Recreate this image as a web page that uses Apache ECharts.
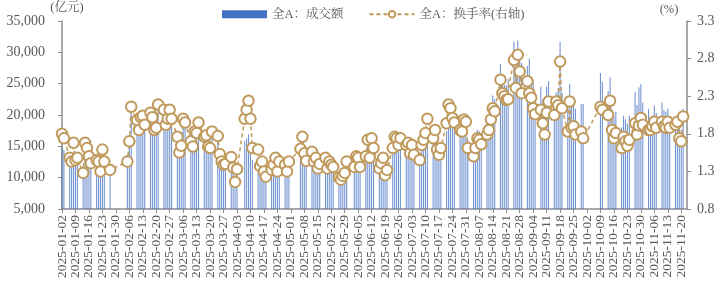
<!DOCTYPE html>
<html><head><meta charset="utf-8">
<script src="https://cdn.jsdelivr.net/npm/echarts@6/dist/echarts.min.js"></script>
<style>html,body{margin:0;padding:0;background:#fff}#c{width:718px;height:284px}</style>
</head><body><div id="c"></div>
<script>
// Trading days (YYYY-MM-DD)
const tradeDates = [
'2025-01-02','2025-01-03','2025-01-06','2025-01-07','2025-01-08','2025-01-09','2025-01-10','2025-01-13','2025-01-14','2025-01-15','2025-01-16','2025-01-17','2025-01-20','2025-01-21','2025-01-22','2025-01-23','2025-01-24','2025-01-27',
'2025-02-05','2025-02-06','2025-02-07','2025-02-10','2025-02-11','2025-02-12','2025-02-13','2025-02-14','2025-02-17','2025-02-18','2025-02-19','2025-02-20','2025-02-21','2025-02-24','2025-02-25','2025-02-26','2025-02-27','2025-02-28',
'2025-03-03','2025-03-04','2025-03-05','2025-03-06','2025-03-07','2025-03-10','2025-03-11','2025-03-12','2025-03-13','2025-03-14','2025-03-17','2025-03-18','2025-03-19','2025-03-20','2025-03-21','2025-03-24','2025-03-25','2025-03-26','2025-03-27','2025-03-28','2025-03-31',
'2025-04-01','2025-04-02','2025-04-03','2025-04-07','2025-04-08','2025-04-09','2025-04-10','2025-04-11','2025-04-14','2025-04-15','2025-04-16','2025-04-17','2025-04-18','2025-04-21','2025-04-22','2025-04-23','2025-04-24','2025-04-25','2025-04-28','2025-04-29','2025-04-30',
'2025-05-06','2025-05-07','2025-05-08','2025-05-09','2025-05-12','2025-05-13','2025-05-14','2025-05-15','2025-05-16','2025-05-19','2025-05-20','2025-05-21','2025-05-22','2025-05-23','2025-05-26','2025-05-27','2025-05-28','2025-05-29','2025-05-30',
'2025-06-03','2025-06-04','2025-06-05','2025-06-06','2025-06-09','2025-06-10','2025-06-11','2025-06-12','2025-06-13','2025-06-16','2025-06-17','2025-06-18','2025-06-19','2025-06-20','2025-06-23','2025-06-24','2025-06-25','2025-06-26','2025-06-27','2025-06-30',
'2025-07-01','2025-07-02','2025-07-03','2025-07-04','2025-07-07','2025-07-08','2025-07-09','2025-07-10','2025-07-11','2025-07-14','2025-07-15','2025-07-16','2025-07-17','2025-07-18','2025-07-21','2025-07-22','2025-07-23','2025-07-24','2025-07-25','2025-07-28','2025-07-29','2025-07-30','2025-07-31',
'2025-08-01','2025-08-04','2025-08-05','2025-08-06','2025-08-07','2025-08-08','2025-08-11','2025-08-12','2025-08-13','2025-08-14','2025-08-15','2025-08-18','2025-08-19','2025-08-20','2025-08-21','2025-08-22','2025-08-25','2025-08-26','2025-08-27','2025-08-28','2025-08-29',
'2025-09-01','2025-09-02','2025-09-03','2025-09-04','2025-09-05','2025-09-08','2025-09-09','2025-09-10','2025-09-11','2025-09-12','2025-09-15','2025-09-16','2025-09-17','2025-09-18','2025-09-19','2025-09-22','2025-09-23','2025-09-24','2025-09-25','2025-09-26','2025-09-29','2025-09-30',
'2025-10-09','2025-10-10','2025-10-13','2025-10-14','2025-10-15','2025-10-16','2025-10-17','2025-10-20','2025-10-21','2025-10-22','2025-10-23','2025-10-24','2025-10-27','2025-10-28','2025-10-29','2025-10-30','2025-10-31',
'2025-11-03','2025-11-04','2025-11-05','2025-11-06','2025-11-07','2025-11-10','2025-11-11','2025-11-12','2025-11-13','2025-11-14','2025-11-17','2025-11-18','2025-11-19','2025-11-20','2025-11-21'
];
// 全A：成交额 (亿元)
const amount = [
14900,14400,12300,11900,13900,12000,12300,10600,13900,13300,12500,11700,12000,11900,10800,13200,11900,11000,
13600,16200,20500,18800,17600,19200,19400,18200,19800,19200,17600,17900,20800,20100,18200,19000,20100,19000,
16400,14400,15300,18600,18100,15800,15200,17000,16800,18100,16400,16500,15200,15000,17000,16500,14200,13300,12900,13000,13900,
11300,9800,11200,15800,16300,16900,15700,12800,12700,11000,11500,10500,9900,10700,11200,12000,10500,11600,11300,10500,11600,
14000,15400,13500,12600,13700,12600,13000,11800,12300,13000,11800,12600,12200,11900,10200,9900,10300,10700,11800,
11900,13200,13000,11900,13200,15100,13000,15300,14100,11800,12400,13000,11000,11600,14100,15500,15300,14500,15300,14500,
15100,13900,14900,13700,13000,14900,15500,16300,18000,15700,16700,14300,13700,14500,17500,19700,19300,18100,17600,16700,16500,17900,17700,
16100,15200,16400,17600,17400,16800,18500,19300,21600,23100,22500,28100,26400,24800,24700,25800,31700,27200,31900,29800,28300,
27800,29000,25300,25500,23400,24500,22500,20000,24500,25400,23000,23600,24300,31700,23600,21200,25000,22000,22000,21000,21700,21800,
26700,25300,23800,26000,21000,19800,20500,18000,19900,19300,18600,19900,23700,21600,24400,24900,22000,
21000,19600,19400,21500,20300,22000,20800,20500,21000,19800,19500,20000,18000,17600,21000
];
// 全A：换手率 (%)
const turnover = [
1.80,1.74,1.48,1.43,1.68,1.45,1.48,1.28,1.68,1.61,1.50,1.41,1.45,1.43,1.30,1.59,1.43,1.32,
1.43,1.70,2.16,1.98,1.85,2.02,2.04,1.92,2.08,2.02,1.85,1.88,2.19,2.12,1.92,2.00,2.12,2.00,
1.76,1.55,1.64,2.00,1.95,1.70,1.63,1.83,1.81,1.95,1.76,1.78,1.63,1.61,1.83,1.77,1.53,1.43,1.39,1.40,1.49,
1.35,1.16,1.33,2.00,2.12,2.24,2.00,1.61,1.59,1.37,1.43,1.30,1.23,1.32,1.39,1.48,1.30,1.43,1.39,1.30,1.43,
1.60,1.76,1.54,1.44,1.56,1.43,1.48,1.34,1.40,1.48,1.34,1.43,1.39,1.36,1.22,1.19,1.24,1.28,1.43,
1.36,1.50,1.48,1.36,1.50,1.72,1.48,1.74,1.61,1.34,1.41,1.48,1.25,1.32,1.61,1.76,1.74,1.65,1.74,1.65,
1.68,1.54,1.65,1.52,1.45,1.65,1.72,1.81,2.00,1.74,1.85,1.59,1.52,1.61,1.94,2.19,2.14,2.01,1.95,1.85,1.83,1.99,1.96,
1.61,1.50,1.61,1.74,1.72,1.66,1.79,1.85,1.99,2.14,2.10,2.52,2.34,2.30,2.25,2.26,2.78,2.41,2.85,2.63,2.34,
2.50,2.34,2.28,2.14,2.06,2.12,1.94,1.79,2.08,2.23,2.05,2.23,2.18,2.76,2.14,1.83,2.23,1.88,1.90,1.79,1.83,1.74,
2.16,2.12,2.05,2.24,1.85,1.74,1.81,1.61,1.76,1.70,1.64,1.72,1.94,1.79,1.91,2.01,1.92,
1.85,1.85,1.90,1.96,1.88,1.96,1.90,1.88,1.96,1.88,1.92,1.96,1.74,1.70,2.03
];
const axisFirstDay = '2025-01-02';
const axisLastDay = '2025-11-23';
const leftAxisRange = [5000, 35000, 5000];
const rightAxisRange = [0.8, 3.3, 0.5];
const seriesNames = ['全A：成交额', '全A：换手率(右轴)'];
const axisNames = ['(亿元)', '(%)'];

// Build calendar-day category axis
const calendar = [];
for (let t = Date.parse(axisFirstDay + 'T00:00:00Z'); t <= Date.parse(axisLastDay + 'T00:00:00Z'); t += 86400000) {
  calendar.push(new Date(t).toISOString().slice(0, 10));
}
const idx = {};
tradeDates.forEach((d, i) => idx[d] = i);
const barData = calendar.map(d => idx[d] !== undefined ? amount[idx[d]] : null);
const lineData = calendar.map(d => idx[d] !== undefined ? turnover[idx[d]] : null);

const FONT = "'Liberation Serif', 'Noto Serif CJK SC', 'Noto Sans CJK SC', serif";
const GREY = '#595959';
const AXIS = '#8c8c8c';
const GOLD = '#C09A5C';
const BLUE = '#4472C4';

const chart = echarts.init(document.getElementById('c'), null, {renderer: 'canvas'});
chart.setOption({
  animation: false,
  backgroundColor: '#fff',
  textStyle: {fontFamily: FONT},
  legend: {
    left: 217, top: 3, itemGap: 25, itemWidth: 45, itemHeight: 8,
    textStyle: {fontSize: 12.5, color: GREY, fontFamily: FONT},
    data: [{name: seriesNames[0], icon: 'rect', itemStyle: {color: BLUE, opacity: 1}}, {name: seriesNames[1]}]
  },
  grid: {left: 62, right: 31, top: 21, bottom: 75, containLabel: false},
  xAxis: {
    type: 'category', data: calendar, boundaryGap: false,
    axisLine: {lineStyle: {color: AXIS, width: 1.5}},
    axisTick: {show: true, interval: 6, length: 4, lineStyle: {color: AXIS}},
    axisLabel: {interval: 6, rotate: 90, fontSize: 13.5, color: GREY, margin: 6, fontFamily: FONT},
    splitLine: {show: false}
  },
  yAxis: [{
    type: 'value', min: leftAxisRange[0], max: leftAxisRange[1], interval: leftAxisRange[2],
    name: axisNames[0], nameLocation: 'end', nameGap: 5,
    nameTextStyle: {fontSize: 12.5, color: GREY, align: 'center', padding: [0, 0, 0, 10], fontFamily: FONT},
    axisLine: {show: true, lineStyle: {color: AXIS, width: 1.5}},
    axisTick: {show: true, length: 4, lineStyle: {color: AXIS}},
    axisLabel: {fontSize: 14, color: GREY, margin: 17, fontFamily: FONT,
      formatter: v => v.toLocaleString('en-US')},
    splitLine: {show: false}
  }, {
    type: 'value', min: rightAxisRange[0], max: rightAxisRange[1], interval: rightAxisRange[2],
    name: axisNames[1], nameLocation: 'end', nameGap: 5,
    nameTextStyle: {fontSize: 12.5, color: GREY, align: 'center', padding: [0, 36, 0, 0], fontFamily: FONT},
    axisLine: {show: true, lineStyle: {color: AXIS, width: 1.5}},
    axisTick: {show: true, length: 4, lineStyle: {color: AXIS}},
    axisLabel: {fontSize: 14, color: GREY, margin: 10, fontFamily: FONT,
      formatter: v => v.toFixed(1)},
    splitLine: {show: false}
  }],
  series: [{
    name: seriesNames[0], type: 'bar', yAxisIndex: 0, data: barData,
    barWidth: 1.1, itemStyle: {color: BLUE, opacity: 0.75}, z: 2
  }, {
    name: seriesNames[1], type: 'line', yAxisIndex: 1, data: lineData,
    connectNulls: true, symbol: 'emptyCircle', symbolSize: 10.5, showAllSymbol: true,
    lineStyle: {color: GOLD, width: 1.5, type: [4, 3]},
    itemStyle: {color: GOLD, borderColor: GOLD, borderWidth: 2},
    z: 3
  }]
});
</script></body></html>
